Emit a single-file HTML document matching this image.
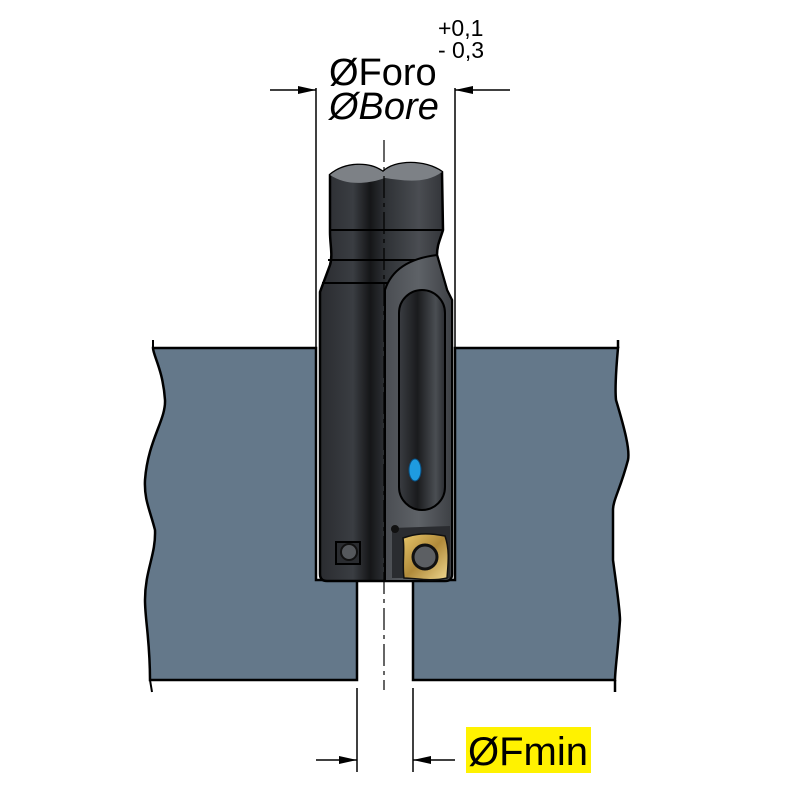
<!DOCTYPE html>
<html><head><style>body{margin:0;background:#fff}svg{display:block}</style></head><body>
<svg width="800" height="800" viewBox="0 0 800 800" xmlns="http://www.w3.org/2000/svg">
<defs>
<linearGradient id="body" x1="0" x2="1">
<stop offset="0" stop-color="#2a2c30"/><stop offset="0.25" stop-color="#3a3d42"/><stop offset="0.38" stop-color="#151618"/><stop offset="0.5" stop-color="#2f3236"/><stop offset="0.75" stop-color="#4a4d52"/><stop offset="1" stop-color="#2a2c30"/>
</linearGradient>
<linearGradient id="flank" x1="0" x2="1">
<stop offset="0" stop-color="#4a4d52"/><stop offset="0.5" stop-color="#5e6267"/><stop offset="1" stop-color="#3e4145"/>
</linearGradient>
<linearGradient id="slot" x1="0" x2="1">
<stop offset="0" stop-color="#3a3d42"/><stop offset="0.4" stop-color="#1a1b1d"/><stop offset="0.8" stop-color="#4a4e53"/><stop offset="1" stop-color="#2a2c30"/>
</linearGradient>
<linearGradient id="gold" x1="0" y1="0" x2="1" y2="1">
<stop offset="0" stop-color="#e8c66a"/><stop offset="0.5" stop-color="#b08a3a"/><stop offset="1" stop-color="#f0d890"/>
</linearGradient>
</defs>
<path d="M153,348 L316,348 L316,580 L357,580 L357,680 L150,680 C150,640 145,620 145,600 C145,570 156,555 155,530 C150,510 144,500 145,480 C148,440 166,420 165,400 C163,370 153,355 153,348 Z" fill="#64788a" stroke="#000" stroke-width="2.5"/>
<path d="M455,348 L618,348 C616,370 615,390 616,400 C625,430 630,450 628,460 C620,490 613,500 613,510 L613,560 C617,590 620,610 620,620 C618,650 615,670 615,680 L413,680 L413,580 L455,580 Z" fill="#64788a" stroke="#000" stroke-width="2.5"/>
<line x1="153" y1="340" x2="153" y2="348" stroke="#000" stroke-width="2"/>
<line x1="618" y1="340" x2="618" y2="348" stroke="#000" stroke-width="2.5"/>
<line x1="150" y1="680" x2="152" y2="692" stroke="#000" stroke-width="2"/>
<line x1="615" y1="680" x2="615" y2="692" stroke="#000" stroke-width="2.5"/>
<rect x="359" y="580" width="52" height="99" fill="#fff"/>
<path d="M330,175 C345,162 370,162 383,172 C395,160 425,160 442,172 L443,230 C440,240 437,245 437,255 L447,290 L452,300 L452,574 Q452,581 445,581 L327,581 Q320,581 320,574 L320,292 L330,265 C333,255 330,245 330,232 Z" fill="url(#body)" stroke="#000" stroke-width="2.5"/>
<path d="M330,175 C345,162 370,162 383,172 C395,160 425,160 442,172 C425,185 400,180 385,178 C365,185 345,185 330,175 Z" fill="#7d8186"/>
<path d="M331,230 L442,230" stroke="#000" stroke-width="2"/>
<path d="M328,260 L437,260 M322,283 L400,283" stroke="#000" stroke-width="2"/>
<path d="M385,290 C392,268 412,258 437,255 L447,290 L452,300 L452,574 Q452,581 445,581 L385,581 Z" fill="url(#flank)" stroke="#000" stroke-width="2"/>
<rect x="399" y="290" width="46" height="220" rx="23" fill="url(#slot)" stroke="#000" stroke-width="2"/>
<ellipse cx="415" cy="470" rx="6" ry="11" fill="#1e9be0" stroke="#0a4f80" stroke-width="1"/>
<path d="M392,528 L450,526 L450,578 L392,578 Z" fill="#2a2c30"/>
<path d="M403,538 C415,534 425,532 445,536 C450,550 448,565 447,578 C430,582 415,578 404,578 C402,565 405,550 403,538 Z" fill="url(#gold)" stroke="#111" stroke-width="1.5"/>
<circle cx="425" cy="557" r="12" fill="#5c5f63" stroke="#111" stroke-width="3"/>
<circle cx="395" cy="529" r="4" fill="#111"/>
<rect x="336" y="542" width="24" height="22" fill="#2a2c30" stroke="#000" stroke-width="2"/>
<circle cx="349" cy="552" r="8" fill="#55585c" stroke="#111" stroke-width="2"/>
<line x1="384" y1="140" x2="384" y2="690" stroke="#000" stroke-width="1.2" stroke-dasharray="22,5,4,5"/>
<line x1="316" y1="88" x2="316" y2="348" stroke="#000" stroke-width="1.5"/>
<line x1="455" y1="88" x2="455" y2="348" stroke="#000" stroke-width="1.5"/>
<line x1="270" y1="90" x2="316" y2="90" stroke="#000" stroke-width="1.5"/>
<path d="M316,90 L298,86 L298,94 Z" fill="#000"/>
<line x1="455" y1="90" x2="510" y2="90" stroke="#000" stroke-width="1.5"/>
<path d="M455,90 L473,86 L473,94 Z" fill="#000"/>
<text x="329" y="85" font-family="Liberation Sans, sans-serif" font-size="38" fill="#000">ØForo</text>
<text x="329" y="119" font-family="Liberation Sans, sans-serif" font-size="38" font-style="italic" fill="#000">ØBore</text>
<text x="438" y="36" font-family="Liberation Sans, sans-serif" font-size="23" fill="#000">+0,1</text>
<text x="438" y="58" font-family="Liberation Sans, sans-serif" font-size="23" fill="#000">- 0,3</text>
<line x1="357" y1="688" x2="357" y2="772" stroke="#000" stroke-width="1.5"/>
<line x1="413" y1="688" x2="413" y2="772" stroke="#000" stroke-width="1.5"/>
<line x1="316" y1="760" x2="357" y2="760" stroke="#000" stroke-width="1.5"/>
<path d="M357,760 L339,756 L339,764 Z" fill="#000"/>
<line x1="413" y1="760" x2="455" y2="760" stroke="#000" stroke-width="1.5"/>
<path d="M413,760 L431,756 L431,764 Z" fill="#000"/>
<rect x="466" y="727" width="125" height="46" fill="#fff200"/>
<text x="468" y="765" font-family="Liberation Sans, sans-serif" font-size="40" fill="#000">ØFmin</text>
</svg>
</body></html>
